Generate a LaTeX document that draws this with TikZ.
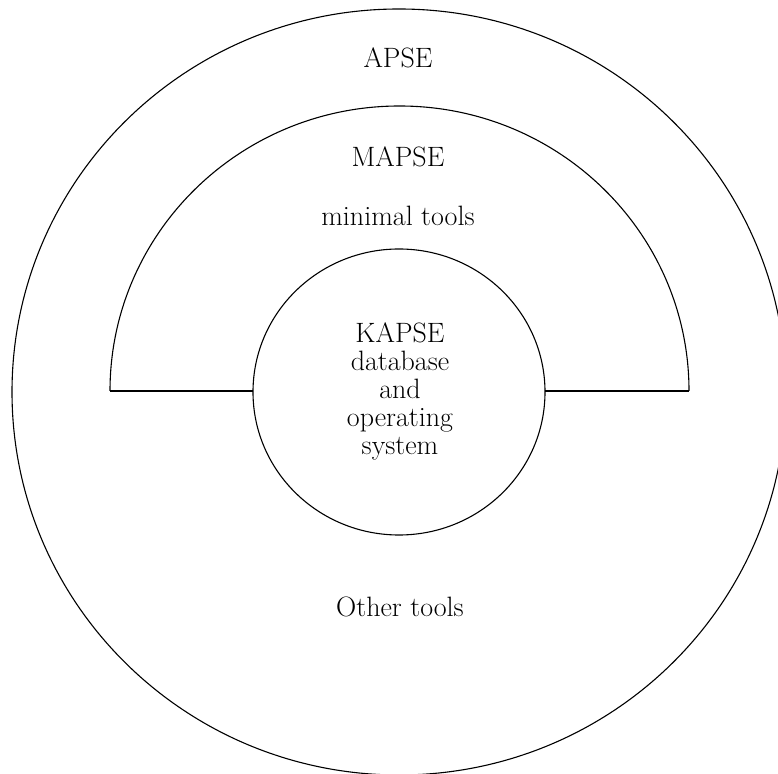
\documentclass[tikz,border=0pt]{standalone}
\begin{document}
\begin{tikzpicture}[x=1pt,y=1pt,
  ring/.style={line width=1.1pt},
  label/.style={inner sep=0pt,font=\fontsize{28}{28}\selectfont}]
\useasboundingbox (0,0) rectangle (778,773);
% outer APSE ring
\draw[ring] (399,381) ellipse [x radius=387, y radius=383];
% MAPSE half ring with its base lines
\draw[ring] (110,382) arc[start angle=180, end angle=0, x radius=289.5, y radius=285];
\draw[ring] (110,382) -- (253,382);
\draw[ring] (545,382) -- (689,382);
% KAPSE core
\draw[ring] (399,381) ellipse [x radius=146, y radius=143];
% labels
\node[label,anchor=base] (apse) at (398,705) {APSE};
\node[label,anchor=base] (mapse) at (398,606) {MAPSE};
\node[label,anchor=base] (minimal) at (398,547) {minimal tools};
\node[label,align=center] (kapse) at (400,382) {KAPSE\\database\\and\\operating\\system};
\node[label,anchor=base] (other) at (400,156) {Other tools};
\end{tikzpicture}
\end{document}
